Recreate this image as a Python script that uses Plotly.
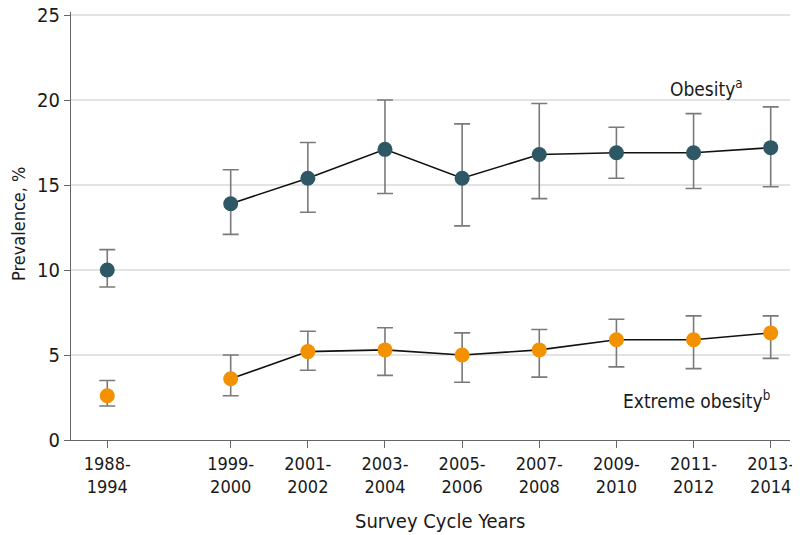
import plotly.graph_objects as go

cycles = ["1988-\n1994", "1999-\n2000", "2001-\n2002", "2003-\n2004", "2005-\n2006",
          "2007-\n2008", "2009-\n2010", "2011-\n2012", "2013-\n2014"]
obesity = [10.0, 13.9, 15.4, 17.1, 15.4, 16.8, 16.9, 16.9, 17.2]
obesity_lo = [9.0, 12.1, 13.4, 14.5, 12.6, 14.2, 15.4, 14.8, 14.9]
obesity_hi = [11.2, 15.9, 17.5, 20.0, 18.6, 19.8, 18.4, 19.2, 19.6]
extreme = [2.6, 3.6, 5.2, 5.3, 5.0, 5.3, 5.9, 5.9, 6.3]
extreme_lo = [2.0, 2.6, 4.1, 3.8, 3.4, 3.7, 4.3, 4.2, 4.8]
extreme_hi = [3.5, 5.0, 6.4, 6.6, 6.3, 6.5, 7.1, 7.3, 7.3]
y_ticks = [0, 5, 10, 15, 20, 25]

GAP = 0.6
xpos = [i + (GAP if i > 0 else 0) for i in range(len(cycles))]
labels = [c.replace("\n", "<br>") for c in cycles]

FONT = "DejaVu Sans Condensed"
DARK = "#2E5866"
ORANGE = "#F39200"
ERR = "#7a7a7a"
TXT = "#1a1a1a"

# the page body has an 8px default margin; the figure is sized so it fits the window
OFF = 8
W, H = 800 - OFF, 535 - OFF
L, R, T, B = 71 - OFF, 10, 12 - OFF, 95
pw, ph = W - L - R, H - T - B

fig = go.Figure()

def add_series(vals, lo, hi, color):
    # connecting line (the first survey is not joined to the rest)
    fig.add_trace(go.Scatter(x=xpos[1:], y=vals[1:], mode="lines",
                             line=dict(color="#111111", width=1.6),
                             hoverinfo="skip", showlegend=False, cliponaxis=False))
    fig.add_trace(go.Scatter(
        x=xpos, y=vals, mode="markers",
        marker=dict(size=15, color=color, line=dict(width=0)),
        error_y=dict(type="data", symmetric=False,
                     array=[h - v for h, v in zip(hi, vals)],
                     arrayminus=[v - l for v, l in zip(vals, lo)],
                     color=ERR, thickness=1.6, width=8),
        showlegend=False, cliponaxis=False))

add_series(obesity, obesity_lo, obesity_hi, DARK)
add_series(extreme, extreme_lo, extreme_hi, ORANGE)

def px_note(px, py, text, size, angle=0):
    # px, py: page pixel position of the text centre
    fx = (px - OFF - L) / pw
    fy = (H - (py - OFF) - B) / ph
    fig.add_annotation(x=fx, y=fy, xref="paper", yref="paper", text=text, showarrow=False,
                       textangle=angle, font=dict(family=FONT, size=size, color=TXT),
                       xanchor="center", yanchor="middle")

px_note(706, 88, "Obesity<sup>a</sup>", 19)
px_note(696, 400, "Extreme obesity<sup>b</sup>", 19)
px_note(440, 521, "Survey Cycle Years", 20)
px_note(18, 224, "Prevalence, %", 18, angle=-90)

fig.update_layout(
    width=W, height=H,
    margin=dict(l=L, r=R, t=T, b=B, autoexpand=False),
    plot_bgcolor="white", paper_bgcolor="white",
    font=dict(family=FONT, size=19, color=TXT),
    xaxis=dict(range=[-0.47, xpos[-1] + 0.25], tickmode="array", tickvals=xpos, ticktext=labels,
               showgrid=False, zeroline=False, showline=True, linecolor="#666666", linewidth=1.2,
               ticks="outside", ticklen=7, tickcolor="#666666", tickwidth=1.2,
               automargin=False, tickfont=dict(size=18), ticklabeloverflow="allow"),
    yaxis=dict(range=[0, 25.18], tickmode="array", tickvals=y_ticks,
               showgrid=True, gridcolor="#e3e3e3", gridwidth=1.5, zeroline=False,
               showline=True, linecolor="#666666", linewidth=1.2,
               ticks="outside", ticklen=6, tickcolor="#666666", tickwidth=1.2,
               automargin=False, tickfont=dict(size=20), ticklabeloverflow="allow"),
)

fig.write_html("out.html")
